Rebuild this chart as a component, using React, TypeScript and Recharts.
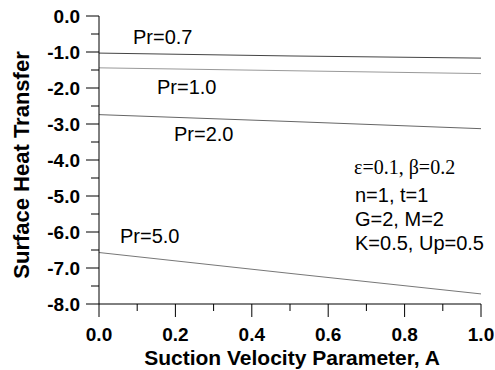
import { LineChart, Line, XAxis, YAxis, Customized } from "recharts";

// suction velocity parameter A
const suction = [0, 0.5, 1.0];
// surface heat transfer for each Prandtl number
const pr07 = [-1.03, -1.11, -1.17];
const pr10 = [-1.44, -1.52, -1.6];
const pr20 = [-2.74, -2.93, -3.13];
const pr50 = [-6.57, -7.15, -7.72];

const xTicks = [0, 0.1, 0.2, 0.3, 0.4, 0.5, 0.6, 0.7, 0.8, 0.9, 1.0];
const yTicks = [-8, -7.5, -7, -6.5, -6, -5.5, -5, -4.5, -4, -3.5, -3, -2.5, -2, -1.5, -1, -0.5, 0];

const data = suction.map((a, i) => ({
  a,
  pr07: pr07[i],
  pr10: pr10[i],
  pr20: pr20[i],
  pr50: pr50[i],
}));

const SANS = "'Liberation Sans', Arial, Helvetica, sans-serif";

const YTick = (props: any) => {
  const { x, y, payload } = props;
  const major = Number.isInteger(payload.value);
  return (
    <g>
      <line x1={x - (major ? 13 : 8)} x2={x} y1={y} y2={y} stroke="#000" strokeWidth={1} />
      {major && (
        <text
          x={x - 19}
          y={y}
          textAnchor="end"
          dominantBaseline="central"
          fontFamily={SANS}
          fontWeight="bold"
          fontSize={19}
          fill="#000"
        >
          {payload.value.toFixed(1)}
        </text>
      )}
    </g>
  );
};

const XTick = (props: any) => {
  const { x, y, payload } = props;
  const major = Math.round(payload.value * 10) % 2 === 0;
  return (
    <g>
      <line x1={x} x2={x} y1={y} y2={y + (major ? 13 : 7)} stroke="#000" strokeWidth={1} />
      {major && (
        <text
          x={x}
          y={y + 30}
          textAnchor="middle"
          dominantBaseline="central"
          fontFamily={SANS}
          fontWeight="bold"
          fontSize={19}
          fill="#000"
        >
          {payload.value.toFixed(1)}
        </text>
      )}
    </g>
  );
};

const Notes = () => (
  <g fill="#000">
    <text x={133} y={44} fontFamily={SANS} fontSize={20}>Pr=0.7</text>
    <text x={157} y={94} fontFamily={SANS} fontSize={20}>Pr=1.0</text>
    <text x={174} y={141} fontFamily={SANS} fontSize={20}>Pr=2.0</text>
    <text x={120} y={243} fontFamily={SANS} fontSize={20}>Pr=5.0</text>
    <text x={354} y={174} fontFamily="'Liberation Serif', 'Times New Roman', serif" fontSize={20}>
      ε=0.1, β=0.2
    </text>
    <text x={355} y={202} fontFamily={SANS} fontSize={20}>n=1, t=1</text>
    <text x={355} y={226} fontFamily={SANS} fontSize={20}>G=2, M=2</text>
    <text x={355} y={250} fontFamily={SANS} fontSize={20}>K=0.5, Up=0.5</text>
    <text
      x={292}
      y={357}
      textAnchor="middle"
      dominantBaseline="central"
      fontFamily={SANS}
      fontWeight="bold"
      fontSize={21}
    >
      Suction Velocity Parameter, A
    </text>
    <text
      transform="translate(21,165) rotate(-90)"
      textAnchor="middle"
      dominantBaseline="central"
      fontFamily={SANS}
      fontWeight="bold"
      fontSize={22}
    >
      Surface Heat Transfer
    </text>
  </g>
);

export default function App() {
  return (
    <div style={{ position: "absolute", left: 0, top: 0, width: 495, height: 370, background: "#fff" }}>
      <LineChart
        width={495}
        height={370}
        data={data}
        margin={{ top: 16, right: 14, bottom: 0, left: 0 }}
      >
        <XAxis
          dataKey="a"
          type="number"
          domain={[0, 1]}
          ticks={xTicks}
          interval={0}
          height={66}
          tickSize={0}
          tickMargin={0}
          tickLine={false}
          axisLine={{ stroke: "#000", strokeWidth: 1 }}
          tick={<XTick />}
        />
        <YAxis
          type="number"
          domain={[-8, 0]}
          ticks={yTicks}
          interval={0}
          width={99}
          tickSize={0}
          tickMargin={0}
          tickLine={false}
          axisLine={{ stroke: "#000", strokeWidth: 1 }}
          tick={<YTick />}
        />
        <Line dataKey="pr07" stroke="#444" strokeWidth={1} dot={false} isAnimationActive={false} />
        <Line dataKey="pr10" stroke="#999" strokeWidth={1} dot={false} isAnimationActive={false} />
        <Line dataKey="pr20" stroke="#666" strokeWidth={1} dot={false} isAnimationActive={false} />
        <Line dataKey="pr50" stroke="#777" strokeWidth={1} dot={false} isAnimationActive={false} />
        <Customized component={Notes} />
      </LineChart>
    </div>
  );
}
